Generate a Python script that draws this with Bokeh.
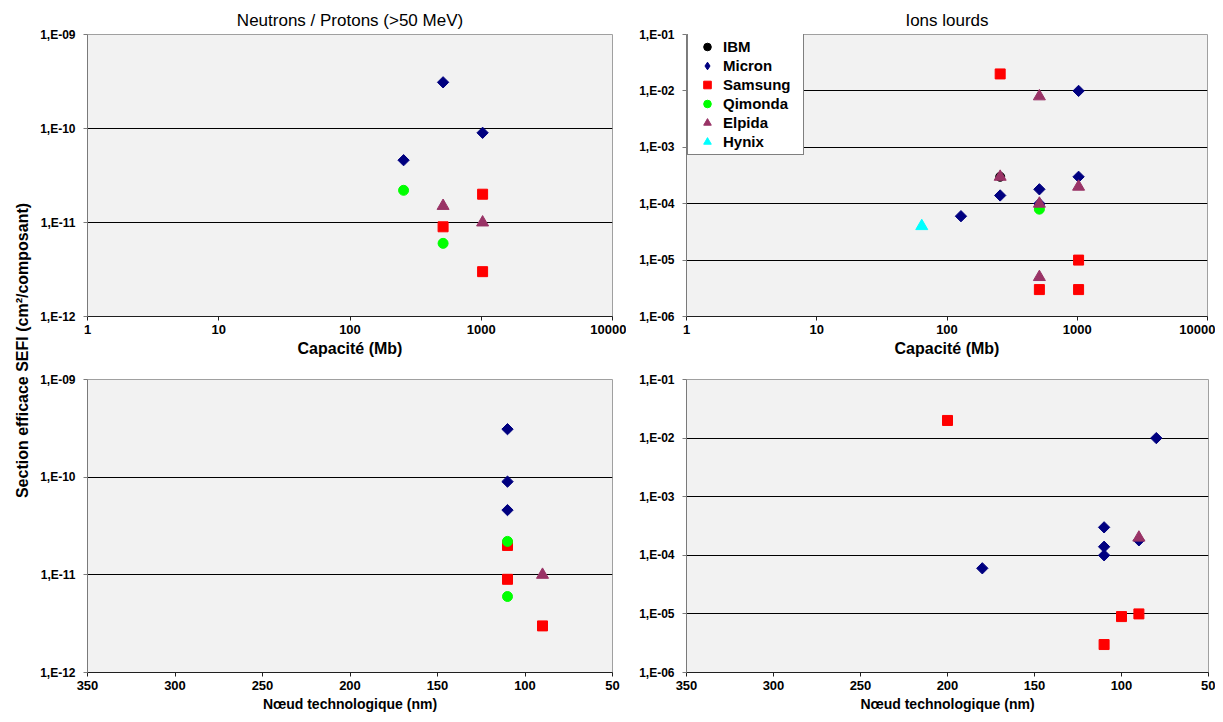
import math
from bokeh.plotting import figure
from bokeh.models import Range1d, FixedTicker, CustomJSTickFormatter, Label
from bokeh.layouts import row, column
from bokeh.embed import file_html
from bokeh.resources import INLINE

FONT = "Liberation Sans"

# ---------------- data ----------------
makers = ["IBM", "Micron", "Samsung", "Qimonda", "Elpida", "Hynix"]

# Neutrons / Protons (>50 MeV) vs capacity (Mb)
np_cap_micron = [256, 512, 1024]
np_sefi_micron = [4.6e-11, 3.1e-10, 9.0e-11]
np_cap_samsung = [512, 1024, 1024]
np_sefi_samsung = [9.0e-12, 2.0e-11, 3.0e-12]
np_cap_qimonda = [256, 512]
np_sefi_qimonda = [2.2e-11, 6.0e-12]
np_cap_elpida = [512, 1024]
np_sefi_elpida = [1.5e-11, 1.0e-11]

# Neutrons / Protons vs technology node (nm)
np_node_micron = [110, 110, 110]
np_nsefi_micron = [3.1e-10, 9.0e-11, 4.6e-11]
np_node_samsung = [110, 110, 90]
np_nsefi_samsung = [2.0e-11, 9.0e-12, 3.0e-12]
np_node_qimonda = [110, 110]
np_nsefi_qimonda = [2.2e-11, 6.0e-12]
np_node_elpida = [90]
np_nsefi_elpida = [1.0e-11]

# Ions lourds vs capacity (Mb)
hi_cap_ibm = [256]
hi_sefi_ibm = [3.0e-4]
hi_cap_micron = [128, 256, 512, 512, 1024, 1024]
hi_sefi_micron = [6.0e-5, 1.4e-4, 1.8e-4, 1.0e-4, 3.0e-4, 1.0e-2]
hi_cap_samsung = [256, 512, 1024, 1024]
hi_sefi_samsung = [2.0e-2, 3.0e-6, 1.0e-5, 3.0e-6]
hi_cap_qimonda = [512]
hi_sefi_qimonda = [8.0e-5]
hi_cap_elpida = [256, 512, 512, 512, 1024]
hi_sefi_elpida = [3.0e-4, 8.0e-3, 1.0e-4, 5.0e-6, 2.0e-4]
hi_cap_hynix = [64]
hi_sefi_hynix = [4.0e-5]

# Ions lourds vs technology node (nm)
hi_node_micron = [180, 110, 110, 110, 90, 80]
hi_nsefi_micron = [6.0e-5, 3.0e-4, 1.4e-4, 1.0e-4, 1.8e-4, 1.0e-2]
hi_node_samsung = [200, 110, 100, 90]
hi_nsefi_samsung = [2.0e-2, 3.0e-6, 9.0e-6, 1.0e-5]
hi_node_elpida = [90]
hi_nsefi_elpida = [2.0e-4]

cap_ticks = [1, 10, 100, 1000, 10000]
node_ticks = [350, 300, 250, 200, 150, 100, 50]
np_yticks = [1e-12, 1e-11, 1e-10, 1e-9]
hi_yticks = [1e-6, 1e-5, 1e-4, 1e-3, 1e-2, 1e-1]

# ---------------- styles ----------------
style = {
    "IBM": dict(marker="circle", size=9, color="#000000", angle=0.0),
    "Micron": dict(marker="square", size=8, color="#000080", angle=math.pi / 4),
    "Samsung": dict(marker="square", size=10, color="#FF0000", angle=0.0),
    "Qimonda": dict(marker="circle", size=10, color="#00FF00", angle=0.0),
    "Elpida": dict(marker="triangle", size=12, color="#993366", angle=0.0),
    "Hynix": dict(marker="triangle", size=12, color="#00FFFF", angle=0.0),
}

exp_fmt = CustomJSTickFormatter(code="""
const e = Math.round(Math.log10(tick));
const a = Math.abs(e);
return "1,E" + (e < 0 ? "-" : "+") + (a < 10 ? "0" + a : String(a));
""")
int_fmt = CustomJSTickFormatter(code="return String(Math.round(tick));")


def make_fig(title, xlabel, xlabel_size, x_log, xr, xt, yr, yt, width, height,
             bl, br, bt, bb):
    p = figure(width=width, height=height,
               x_axis_type="log" if x_log else "linear", y_axis_type="log",
               x_range=xr, y_range=yr,
               output_backend="svg", toolbar_location=None,
               min_border_left=bl, min_border_right=br,
               min_border_top=bt, min_border_bottom=bb,
               background_fill_color="#F2F2F2", border_fill_color="white",
               outline_line_color="#A0A0A0", title=title)
    if title:
        p.title.align = "center"
        p.title.text_font = FONT
        p.title.text_font_size = "17px"
        p.title.text_font_style = "normal"
        p.title.text_color = "#000000"
        p.title.standoff = 9
    p.xgrid.visible = False
    p.ygrid.grid_line_color = "#000000"
    p.ygrid.grid_line_width = 1
    p.yaxis.ticker = FixedTicker(ticks=yt)
    p.yaxis.formatter = exp_fmt
    p.xaxis.ticker = FixedTicker(ticks=xt)
    if x_log:
        p.xaxis.formatter = int_fmt
    for ax in (p.xaxis[0], p.yaxis[0]):
        ax.minor_tick_line_color = None
        ax.major_tick_in = 0
        ax.major_tick_out = 4
        ax.major_label_text_font = FONT
        ax.major_label_text_font_style = "bold"
        ax.major_label_text_color = "#000000"
    p.yaxis.axis_line_color = "#7a7a7a"
    p.yaxis.major_tick_line_color = "#7a7a7a"
    p.xaxis.axis_line_color = "#202020"
    p.xaxis.major_tick_line_color = "#202020"
    p.yaxis.major_label_text_font_size = "12px"
    p.yaxis.major_label_standoff = 8
    p.xaxis.major_label_text_font_size = "13px"
    p.xaxis.major_label_standoff = 4
    p.xaxis.axis_label = xlabel
    p.xaxis.axis_label_text_font = FONT
    p.xaxis.axis_label_text_font_style = "bold"
    p.xaxis.axis_label_text_font_size = xlabel_size
    p.xaxis.axis_label_text_color = "#000000"
    p.xaxis.axis_label_standoff = 3
    return p


def add(p, name, xs, ys, legend=False):
    s = style[name]
    kw = dict(marker=s["marker"], size=s["size"], angle=s["angle"],
              fill_color=s["color"], line_color=s["color"], line_width=1)
    if legend and name != "Micron":
        kw["legend_label"] = name
    p.scatter(xs, ys, **kw)
    if legend and name == "Micron":
        # legend-only entry (no visible point) so that the legend shows a diamond
        p.scatter([float("nan")], [float("nan")], marker="diamond", size=14,
                  fill_color=s["color"], line_color=s["color"], legend_label=name)


# layout sizes
W_YT = 32
W_LEFT, W_RIGHT = 594, 589
H_TOP, H_BOT = 366, 354

p_tl = make_fig("Neutrons / Protons (>50 MeV)", "Capacité (Mb)", "16px", True,
                Range1d(1, 10000), cap_ticks, Range1d(1e-12, 1e-9), np_yticks,
                W_LEFT, H_TOP, 55, 14, 34, 50)
add(p_tl, "Micron", np_cap_micron, np_sefi_micron)
add(p_tl, "Samsung", np_cap_samsung, np_sefi_samsung)
add(p_tl, "Qimonda", np_cap_qimonda, np_sefi_qimonda)
add(p_tl, "Elpida", np_cap_elpida, np_sefi_elpida)

p_tr = make_fig("Ions lourds", "Capacité (Mb)", "16px", True,
                Range1d(1, 10000), cap_ticks, Range1d(1e-6, 1e-1), hi_yticks,
                W_RIGHT, H_TOP, 60, 8, 34, 50)
add(p_tr, "IBM", hi_cap_ibm, hi_sefi_ibm, True)
add(p_tr, "Micron", hi_cap_micron, hi_sefi_micron, True)
add(p_tr, "Samsung", hi_cap_samsung, hi_sefi_samsung, True)
add(p_tr, "Qimonda", hi_cap_qimonda, hi_sefi_qimonda, True)
add(p_tr, "Elpida", hi_cap_elpida, hi_sefi_elpida, True)
add(p_tr, "Hynix", hi_cap_hynix, hi_sefi_hynix, True)
lg = p_tr.legend[0]
lg.location = (1, 161)
lg.padding = 3
lg.spacing = 0
lg.margin = 0
lg.glyph_width = 32
lg.glyph_height = 19
lg.label_height = 19
lg.label_width = 77
lg.label_standoff = 0
lg.label_text_font = FONT
lg.label_text_font_style = "bold"
lg.label_text_font_size = "15px"
lg.label_text_color = "#000000"
lg.border_line_color = "#000000"
lg.border_line_width = 1
lg.background_fill_color = "white"
lg.background_fill_alpha = 1.0

p_bl = make_fig(None, "Nœud technologique (nm)", "14px", False,
                Range1d(350, 50), node_ticks, Range1d(1e-12, 1e-9), np_yticks,
                W_LEFT, H_BOT, 55, 14, 13, 48)
add(p_bl, "Micron", np_node_micron, np_nsefi_micron)
add(p_bl, "Samsung", np_node_samsung, np_nsefi_samsung)
add(p_bl, "Qimonda", np_node_qimonda, np_nsefi_qimonda)
add(p_bl, "Elpida", np_node_elpida, np_nsefi_elpida)

p_br = make_fig(None, "Nœud technologique (nm)", "14px", False,
                Range1d(350, 50), node_ticks, Range1d(1e-6, 1e-1), hi_yticks,
                W_RIGHT, H_BOT, 60, 7, 13, 48)
add(p_br, "Micron", hi_node_micron, hi_nsefi_micron)
add(p_br, "Samsung", hi_node_samsung, hi_nsefi_samsung)
add(p_br, "Elpida", hi_node_elpida, hi_nsefi_elpida)

# shared y-axis title
H_ALL = H_TOP + H_BOT
p_y = figure(width=W_YT, height=H_ALL, output_backend="svg", toolbar_location=None,
             min_border=0, x_range=Range1d(0, W_YT), y_range=Range1d(0, H_ALL),
             outline_line_color=None)
p_y.axis.visible = False
p_y.grid.visible = False
p_y.add_layout(Label(x=22, y=H_ALL - 350, text="Section efficace SEFI (cm²/composant)",
                     angle=math.pi / 2, text_align="center", text_baseline="middle",
                     text_font=FONT, text_font_style="bold", text_font_size="16px",
                     text_color="#000000"))

layout = row(p_y, column(row(p_tl, p_tr), row(p_bl, p_br)))

open("out.html", "w").write(file_html(layout, INLINE))
